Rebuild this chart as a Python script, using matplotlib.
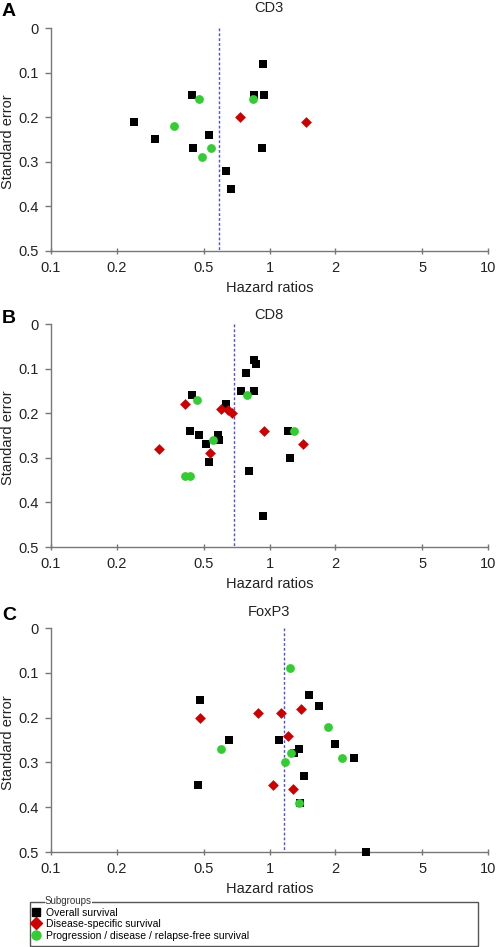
import matplotlib
matplotlib.use("Agg")
import matplotlib.pyplot as plt
from matplotlib.patches import Rectangle
from matplotlib.lines import Line2D
from matplotlib.ticker import FixedLocator, NullLocator, FixedFormatter

plt.rcParams['font.family'] = ['Liberation Sans', 'DejaVu Sans']

# ---- data: hazard ratios (x) and standard errors (y) ----
# Panel A: CD3
cd3_os_hr = [0.937, 0.442, 0.849, 0.944, 0.241, 0.299, 0.530, 0.445, 0.921, 0.632, 0.664]
cd3_os_se = [0.08, 0.15, 0.15, 0.15, 0.21, 0.25, 0.24, 0.27, 0.27, 0.32, 0.36]
cd3_dss_hr = [0.730, 1.47]
cd3_dss_se = [0.20, 0.21]
cd3_pfs_hr = [0.474, 0.843, 0.364, 0.538, 0.491]
cd3_pfs_se = [0.16, 0.16, 0.22, 0.27, 0.29]
cd3_pooled = 0.589

# Panel B: CD8
cd8_os_hr = [0.849, 0.864, 0.778, 0.741, 0.849, 0.442, 0.632, 0.433, 0.478, 0.583,
             0.589, 0.512, 0.530, 1.215, 1.237, 0.805, 0.937]
cd8_os_se = [0.08, 0.09, 0.11, 0.15, 0.15, 0.16, 0.18, 0.24, 0.25, 0.25,
             0.26, 0.27, 0.31, 0.24, 0.30, 0.33, 0.43]
cd8_dss_hr = [0.410, 0.602, 0.644, 0.676, 0.312, 0.536, 0.948, 1.43]
cd8_dss_se = [0.18, 0.19, 0.193, 0.20, 0.28, 0.29, 0.24, 0.27]
cd8_pfs_hr = [0.466, 0.787, 0.550, 1.29, 0.410, 0.434]
cd8_pfs_se = [0.17, 0.16, 0.26, 0.24, 0.34, 0.34]
cd8_pooled = 0.690

# Panel C: FoxP3
foxp3_os_hr = [0.483, 0.469, 0.650, 1.105, 1.51, 1.68, 1.37, 1.29, 1.99, 2.43, 1.44, 1.38, 2.77]
foxp3_os_se = [0.16, 0.35, 0.25, 0.25, 0.15, 0.173, 0.27, 0.28, 0.26, 0.29, 0.33, 0.39, 0.50]
foxp3_dss_hr = [0.483, 0.886, 1.125, 1.40, 1.22, 1.04, 1.28]
foxp3_dss_se = [0.20, 0.19, 0.19, 0.18, 0.24, 0.35, 0.36]
foxp3_pfs_hr = [1.24, 1.86, 0.60, 1.25, 1.18, 2.14, 1.36]
foxp3_pfs_se = [0.09, 0.22, 0.27, 0.28, 0.30, 0.29, 0.39]
foxp3_pooled = 1.165

panel_letters = ['A', 'B', 'C']
panel_titles = ['CD3', 'CD8', 'FoxP3']
x_ticks = [0.1, 0.2, 0.5, 1, 2, 5, 10]
x_tick_labels = ['0.1', '0.2', '0.5', '1', '2', '5', '10']
y_ticks = [0, 0.1, 0.2, 0.3, 0.4, 0.5]
y_tick_labels = ['0', '0.1', '0.2', '0.3', '0.4', '0.5']
legend_labels = ['Overall survival', 'Disease-specific survival',
                 'Progression / disease / relapse-free survival']

panels = [
    (cd3_os_hr, cd3_os_se, cd3_dss_hr, cd3_dss_se, cd3_pfs_hr, cd3_pfs_se, cd3_pooled),
    (cd8_os_hr, cd8_os_se, cd8_dss_hr, cd8_dss_se, cd8_pfs_hr, cd8_pfs_se, cd8_pooled),
    (foxp3_os_hr, foxp3_os_se, foxp3_dss_hr, foxp3_dss_se, foxp3_pfs_hr, foxp3_pfs_se, foxp3_pooled),
]

W, H = 496, 947
fig = plt.figure(figsize=(W / 100, H / 100), dpi=100)

BLACK = '#000000'
RED = '#cc0000'
GREEN = '#33cc33'
SPINE = '#777777'
TXT = '#222222'

ax_boxes = [(28, 251), (324, 547), (628, 852)]  # top, bottom in px
left_px, right_px = 51, 488
aw = right_px - left_px

for i, (box, pdata) in enumerate(zip(ax_boxes, panels)):
    top, bot = box
    ax = fig.add_axes([left_px / W, (H - bot) / H, aw / W, (bot - top) / H])
    os_hr, os_se, dss_hr, dss_se, pfs_hr, pfs_se, pooled = pdata
    ax.set_xscale('log')
    ax.set_xlim(0.1, 10)
    ax.set_ylim(0.5, 0)
    ax.plot([pooled, pooled], [0, 0.5], color='#5050d8', lw=1.0,
            linestyle=(0, (2, 1.5)), zorder=1)
    ax.scatter(os_hr, os_se, marker='s', s=34, color=BLACK, zorder=3, clip_on=False, linewidths=0)
    ax.scatter(dss_hr, dss_se, marker='D', s=30, color=RED, zorder=3, clip_on=False, linewidths=0)
    ax.scatter(pfs_hr, pfs_se, marker='o', s=40, color=GREEN, zorder=3, clip_on=False, linewidths=0)

    for s in ['top', 'right']:
        ax.spines[s].set_visible(False)
    for s in ['left', 'bottom']:
        ax.spines[s].set_color(SPINE)
        ax.spines[s].set_linewidth(1.0)
    ax.xaxis.set_major_locator(FixedLocator(x_ticks))
    ax.xaxis.set_major_formatter(FixedFormatter(x_tick_labels))
    ax.xaxis.set_minor_locator(NullLocator())
    ax.set_yticks(y_ticks)
    ax.set_yticklabels(y_tick_labels)
    ax.tick_params(axis='x', direction='inout', length=5, width=1, color=SPINE,
                   labelsize=10.5, pad=5, labelcolor=TXT)
    ax.tick_params(axis='y', direction='out', length=4, width=1, color=SPINE,
                   labelsize=10.5, pad=5, labelcolor=TXT)
    ax.set_xlabel('Hazard ratios', fontsize=10.5, color=TXT)
    ax.xaxis.label.set_va('center')
    ax.xaxis.set_label_coords(0.5, -37 / (bot - top))
    ax.set_ylabel('Standard error', fontsize=10.5, color=TXT)
    ax.yaxis.label.set_va('center')
    ax.yaxis.set_label_coords((8 - left_px) / aw, 0.49)
    ax.patch.set_alpha(0)

    title_y = [8, 315, 612][i]
    fig.text(269 / W, 1 - title_y / H, panel_titles[i], ha='center', va='center',
             fontsize=10.5, color=TXT)
    fig.text(2 / W, 1 - (title_y + 3) / H, panel_letters[i], ha='left', va='center',
             fontsize=14, fontweight='bold', color='black')

# ---- legend ----
rect = Rectangle((30 / W, 1 / H), 448 / W, 44 / H, transform=fig.transFigure,
                 fill=False, edgecolor='#555555', lw=1.0)
fig.patches.append(rect)
handles = [
    Line2D([], [], marker='s', color=BLACK, linestyle='none', markersize=6),
    Line2D([], [], marker='D', color=RED, linestyle='none', markersize=6),
    Line2D([], [], marker='o', color=GREEN, linestyle='none', markersize=6.5),
]
fig.legend(handles, legend_labels, loc='upper left',
           bbox_to_anchor=(31 / W, 1 - 907.5 / H), frameon=False, fontsize=7.5,
           handlelength=0.9, handletextpad=0.5, labelspacing=0.15,
           borderpad=0.0, borderaxespad=0.0)
fig.text(45 / W, 1 - 901 / H, 'Subgroups', ha='left', va='center', fontsize=7,
         color='#333333', bbox=dict(facecolor='white', edgecolor='none', pad=0.2))

fig.savefig('out.png', dpi=100)
